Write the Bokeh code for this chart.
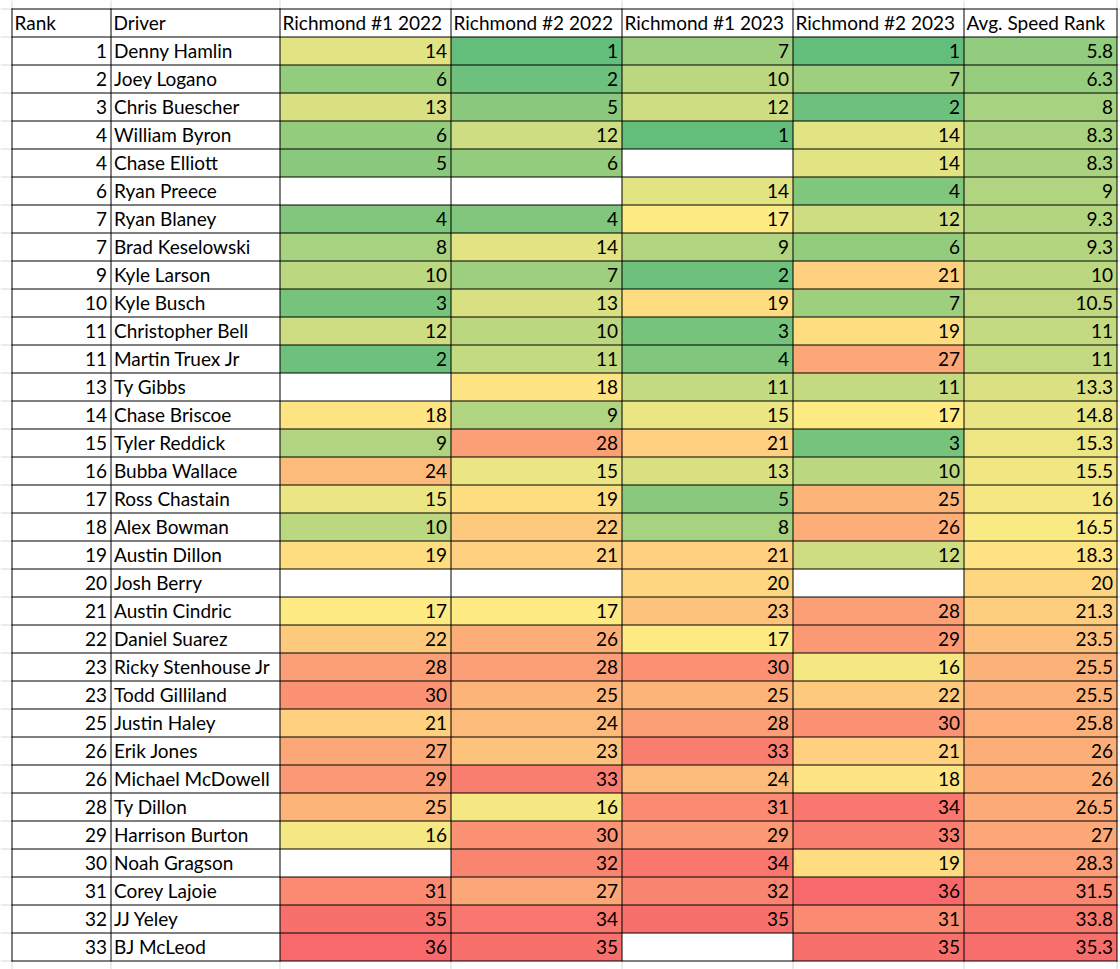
import numpy as np
from bokeh.plotting import figure
from bokeh.models import Range1d
from bokeh.core.properties import value
from bokeh.embed import file_html
from bokeh.resources import INLINE

headers = ["Rank", "Driver", "Richmond #1 2022", "Richmond #2 2022",
           "Richmond #1 2023", "Richmond #2 2023", "Avg. Speed Rank"]

ranks = [1, 2, 3, 4, 4, 6, 7, 7, 9, 10, 11, 11, 13, 14, 15, 16, 17, 18, 19, 20,
         21, 22, 23, 23, 25, 26, 26, 28, 29, 30, 31, 32, 33]

drivers = ["Denny Hamlin", "Joey Logano", "Chris Buescher", "William Byron",
           "Chase Elliott", "Ryan Preece", "Ryan Blaney", "Brad Keselowski",
           "Kyle Larson", "Kyle Busch", "Christopher Bell", "Martin Truex Jr",
           "Ty Gibbs", "Chase Briscoe", "Tyler Reddick", "Bubba Wallace",
           "Ross Chastain", "Alex Bowman", "Austin Dillon", "Josh Berry",
           "Austin Cindric", "Daniel Suarez", "Ricky Stenhouse Jr",
           "Todd Gilliland", "Justin Haley", "Erik Jones", "Michael McDowell",
           "Ty Dillon", "Harrison Burton", "Noah Gragson", "Corey Lajoie",
           "JJ Yeley", "BJ McLeod"]

N = None
richmond1_2022 = [14, 6, 13, 6, 5, N, 4, 8, 10, 3, 12, 2, N, 18, 9, 24, 15, 10, 19, N,
                  17, 22, 28, 30, 21, 27, 29, 25, 16, N, 31, 35, 36]
richmond2_2022 = [1, 2, 5, 12, 6, N, 4, 14, 7, 13, 10, 11, 18, 9, 28, 15, 19, 22, 21, N,
                  17, 26, 28, 25, 24, 23, 33, 16, 30, 32, 27, 34, 35]
richmond1_2023 = [7, 10, 12, 1, N, 14, 17, 9, 2, 19, 3, 4, 11, 15, 21, 13, 5, 8, 21, 20,
                  23, 17, 30, 25, 28, 33, 24, 31, 29, 34, 32, 35, N]
richmond2_2023 = [1, 7, 2, 14, 14, 4, 12, 6, 21, 7, 19, 27, 11, 17, 3, 10, 25, 26, 12, N,
                  28, 29, 16, 22, 30, 21, 18, 34, 33, 19, 36, 31, 35]
avg_speed_rank = [5.8, 6.3, 8, 8.3, 8.3, 9, 9.3, 9.3, 10, 10.5, 11, 11, 13.3, 14.8, 15.3,
                  15.5, 16, 16.5, 18.3, 20, 21.3, 23.5, 25.5, 25.5, 25.8, 26, 26, 26.5,
                  27, 28.3, 31.5, 33.8, 35.3]

value_cols = [richmond1_2022, richmond2_2022, richmond1_2023, richmond2_2023, avg_speed_rank]

# Excel-style 3-colour scale (green - yellow - red) over the whole value block
GREEN = (99, 190, 123)
YELLOW = (255, 235, 132)
RED = (248, 105, 107)
allv = np.array([v for col in value_cols for v in col if v is not None], dtype=float)
vmin, vmid, vmax = allv.min(), np.percentile(allv, 50), allv.max()


def scale_color(v):
    if v is None:
        return "#ffffff"
    if v <= vmid:
        t = (v - vmin) / (vmid - vmin) if vmid > vmin else 0
        a, b = GREEN, YELLOW
    else:
        t = (v - vmid) / (vmax - vmid) if vmax > vmid else 1
        a, b = YELLOW, RED
    c = [round(a[k] + (b[k] - a[k]) * t) for k in range(3)]
    return "#%02x%02x%02x" % tuple(c)


def fmt(v):
    return "" if v is None else ("%g" % v)


# layout (pixel coordinates of the picture)
col_edges = [11, 110, 279, 450, 621, 792, 963, 1116]
TOP = 8
ROW_H = 28
n_rows = len(drivers) + 1
BOTTOM = TOP + ROW_H * n_rows

W, H = 1120, 969
p = figure(width=W, height=H, x_range=Range1d(0, W), y_range=Range1d(H, 0),
           output_backend="svg", toolbar_location=None, min_border=0,
           background_fill_color="white", border_fill_color="white")
p.axis.visible = False
p.grid.visible = False
p.outline_line_color = None

FONT = value("Lato")
FSIZE = value("19px")
GRID = "#d9d9d9"

# cell fills
L, R, T, B, C = [], [], [], [], []
for j, col in enumerate(value_cols):
    for i, v in enumerate(col):
        L.append(col_edges[j + 2] + 0.5)
        R.append(col_edges[j + 3] + 0.5)
        T.append(TOP + ROW_H * (i + 1) + 0.5)
        B.append(TOP + ROW_H * (i + 2) + 0.5)
        C.append(scale_color(v))
p.quad(left=L, right=R, top=T, bottom=B, fill_color=C, line_color=None)

# faint sheet gridlines outside the table
hy = [TOP + ROW_H * k + 0.5 for k in range(n_rows + 1)]
vx = [e + 0.5 for e in col_edges]
p.segment(x0=[0] * len(hy), x1=[col_edges[0]] * len(hy), y0=hy, y1=hy,
          line_color=GRID, line_width=1)
p.segment(x0=[col_edges[-1] + 1] * len(hy), x1=[W] * len(hy), y0=hy, y1=hy,
          line_color=GRID, line_width=1)
p.segment(x0=vx, x1=vx, y0=[0] * len(vx), y1=[TOP] * len(vx),
          line_color=GRID, line_width=1)
p.segment(x0=vx, x1=vx, y0=[BOTTOM + 1] * len(vx), y1=[H] * len(vx),
          line_color=GRID, line_width=1)

# table borders
p.segment(x0=[col_edges[0]] * len(hy), x1=[col_edges[-1] + 1] * len(hy), y0=hy, y1=hy,
          line_color="black", line_width=1)
p.segment(x0=vx, x1=vx, y0=[TOP] * len(vx), y1=[BOTTOM + 1] * len(vx),
          line_color="black", line_width=1)

BASE_OFF = 14

# header texts (left aligned)
p.text(x=[col_edges[c] + 3 for c in range(len(headers))],
       y=[TOP + ROW_H - BASE_OFF] * len(headers), text=headers,
       text_align="left", text_baseline="alphabetic",
       text_font=FONT, text_font_size=FSIZE, text_color="black")

rows_y = [TOP + ROW_H * (i + 2) - BASE_OFF for i in range(len(drivers))]

# rank (right aligned)
p.text(x=[col_edges[1] - 3.5] * len(ranks), y=rows_y, text=[str(r) for r in ranks],
       text_align="right", text_baseline="alphabetic",
       text_font=FONT, text_font_size=FSIZE, text_color="black")
# driver (left aligned)
p.text(x=[col_edges[1] + 3.5] * len(drivers), y=rows_y, text=drivers,
       text_align="left", text_baseline="alphabetic",
       text_font=FONT, text_font_size=FSIZE, text_color="black")
# value columns (right aligned)
for j, col in enumerate(value_cols):
    p.text(x=[col_edges[j + 3] - 3.5] * len(col), y=rows_y, text=[fmt(v) for v in col],
           text_align="right", text_baseline="alphabetic",
           text_font=FONT, text_font_size=FSIZE, text_color="black")

open("out.html", "w").write(file_html(p, INLINE))
